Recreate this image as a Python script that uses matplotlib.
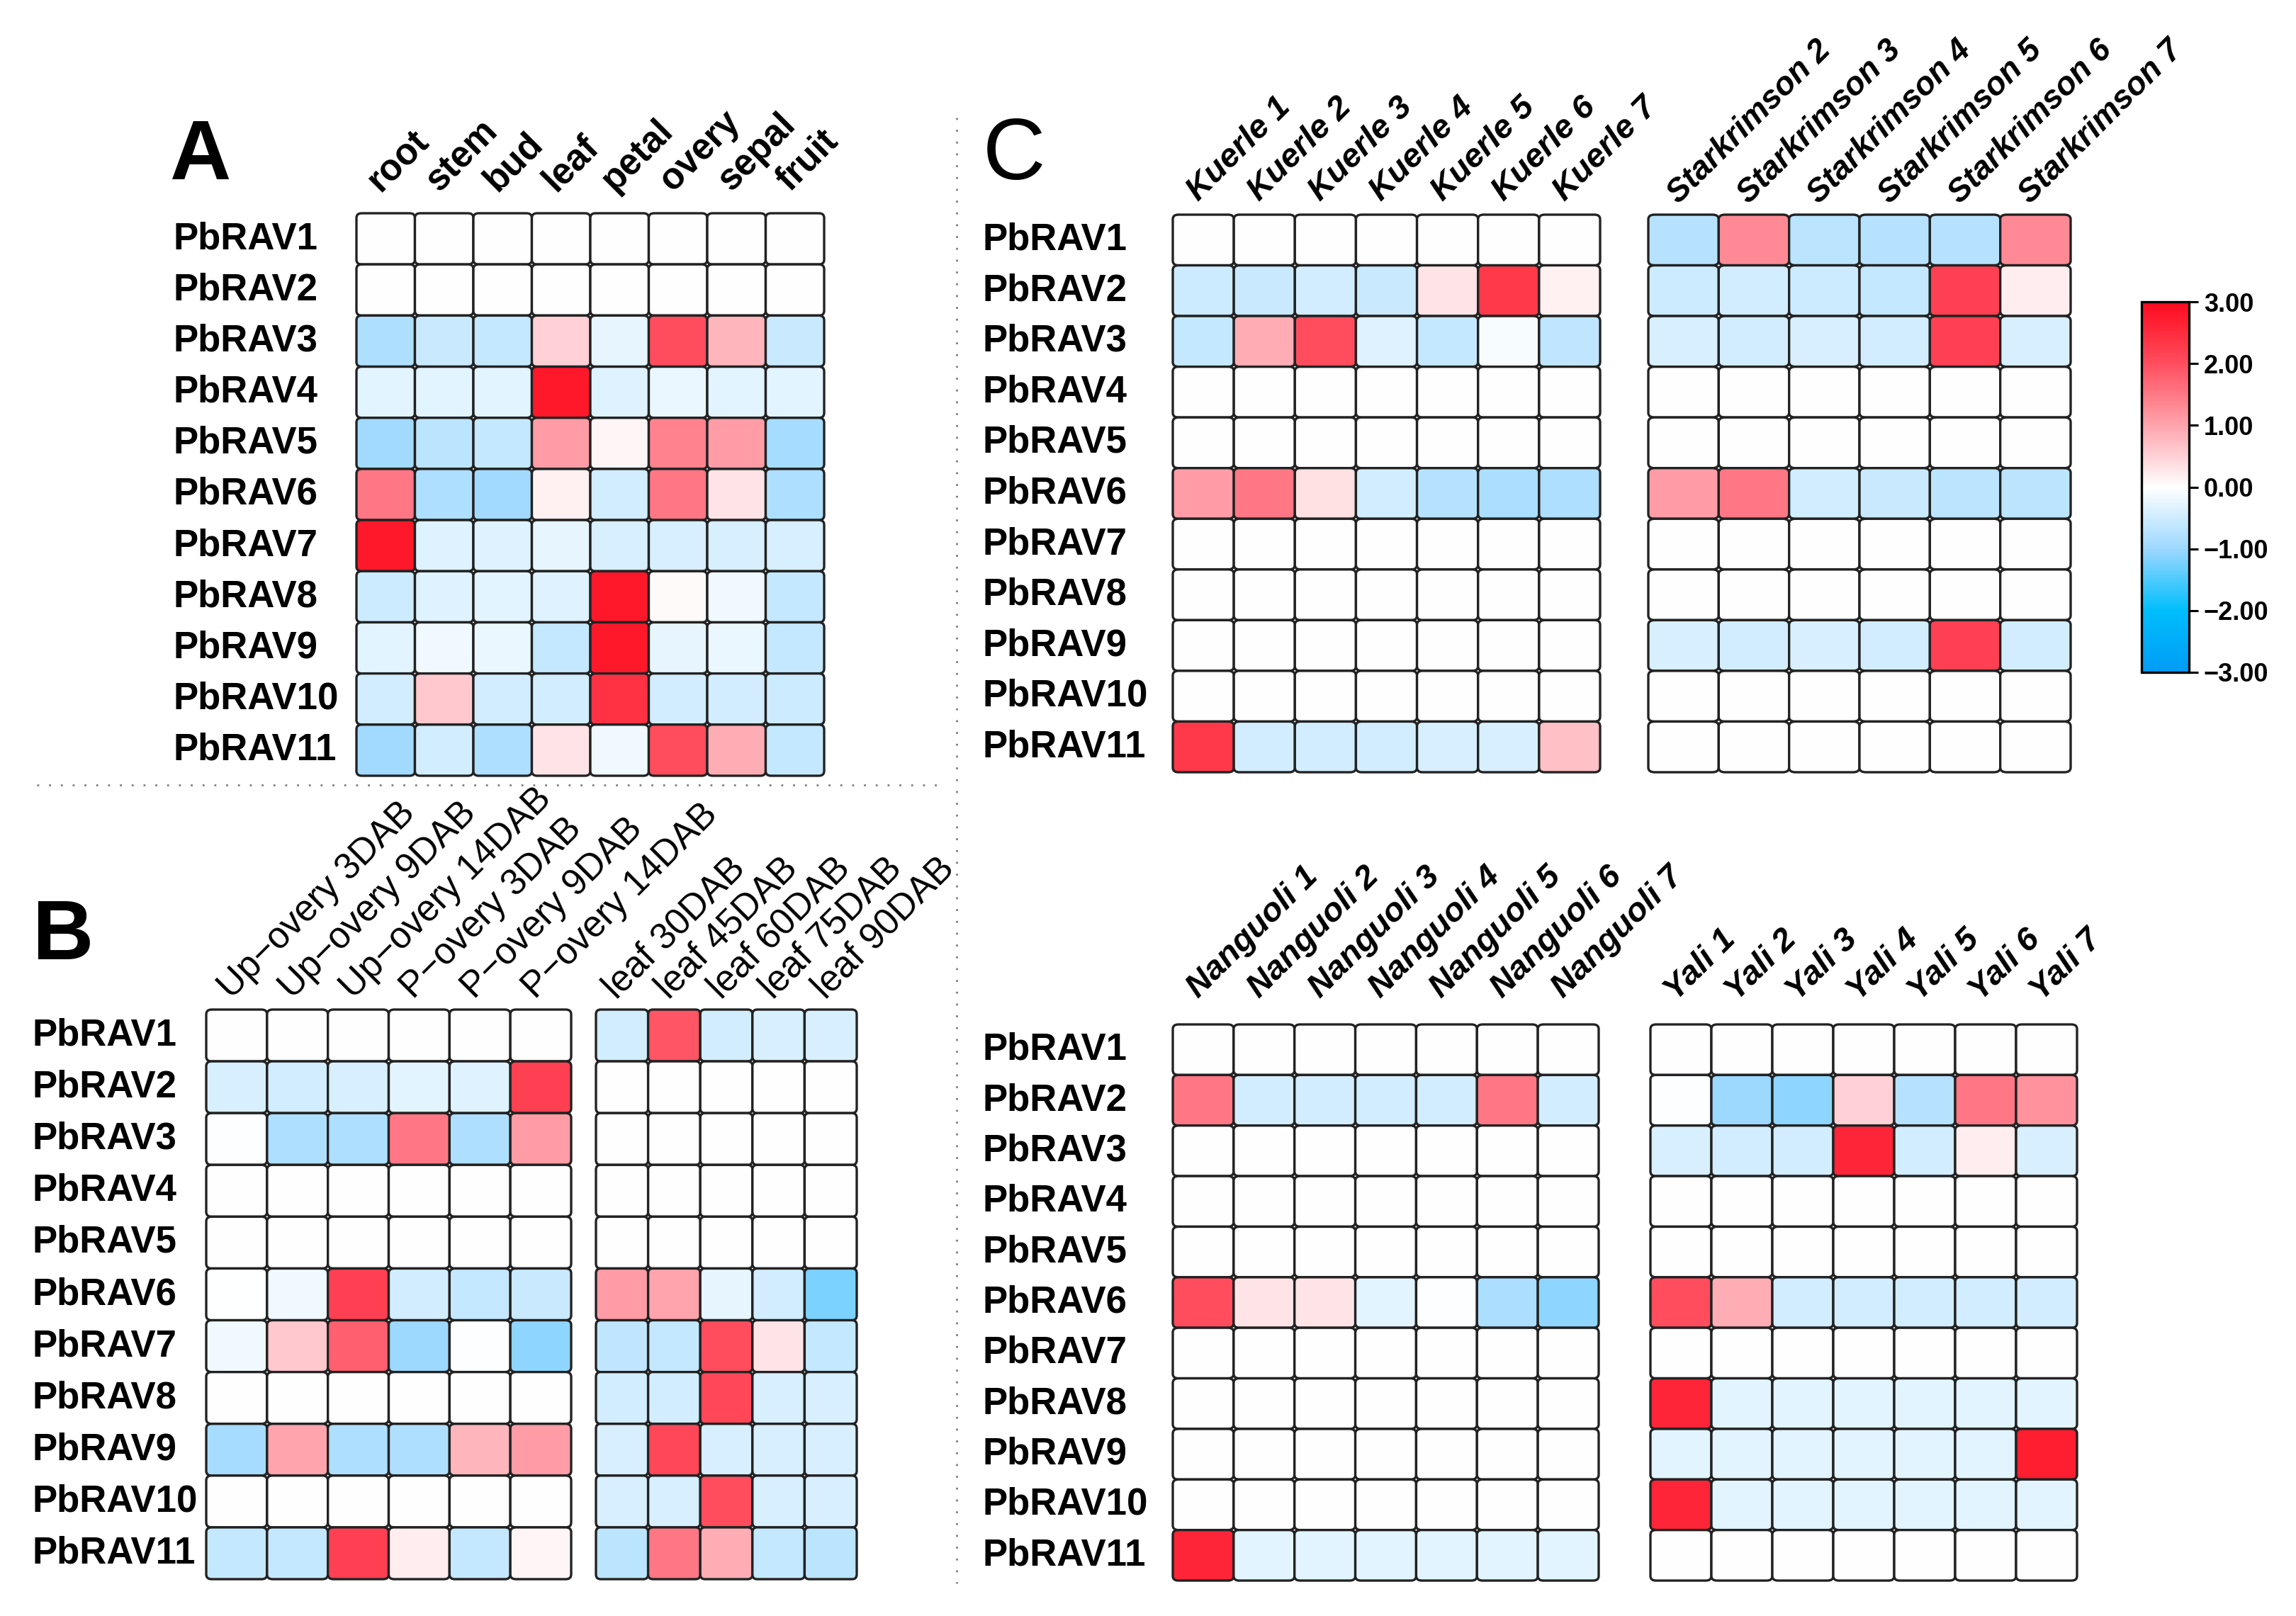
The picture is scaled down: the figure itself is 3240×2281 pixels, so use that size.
import numpy as np
import matplotlib
matplotlib.use('Agg')
import matplotlib.pyplot as plt
from matplotlib.colors import LinearSegmentedColormap, Normalize
from matplotlib.cm import ScalarMappable
from matplotlib.patches import FancyBboxPatch
from matplotlib.lines import Line2D
from matplotlib import transforms

plt.rcParams['font.family'] = ['Liberation Sans', 'DejaVu Sans']

# Gene names (rows of every heatmap)
genes = ['PbRAV1', 'PbRAV2', 'PbRAV3', 'PbRAV4', 'PbRAV5', 'PbRAV6',
         'PbRAV7', 'PbRAV8', 'PbRAV9', 'PbRAV10', 'PbRAV11']

# A: tissues
tissues = ['root', 'stem', 'bud', 'leaf', 'petal', 'overy', 'sepal', 'fruit']
tissue_vals = [
    [0, 0, 0, 0, 0, 0, 0, 0],
    [0, 0, 0, 0, 0, 0, 0, 0],
    [-0.8, -0.55, -0.6, 0.5, -0.25, 2.0, 0.8, -0.55],
    [-0.3, -0.3, -0.3, 2.8, -0.35, -0.2, -0.3, -0.3],
    [-0.95, -0.7, -0.6, 1.1, 0.1, 1.4, 1.1, -0.9],
    [1.5, -0.8, -0.95, 0.15, -0.45, 1.5, 0.3, -0.8],
    [2.8, -0.35, -0.35, -0.25, -0.4, -0.4, -0.4, -0.4],
    [-0.5, -0.35, -0.3, -0.35, 2.8, 0.05, -0.15, -0.6],
    [-0.3, -0.15, -0.2, -0.6, 2.8, -0.25, -0.2, -0.6],
    [-0.45, 0.6, -0.45, -0.45, 2.4, -0.45, -0.45, -0.5],
    [-0.95, -0.45, -0.8, 0.3, -0.15, 2.0, 0.9, -0.6],
]

# B: ovary stages
ovary_stages = ['Up\u2212overy 3DAB', 'Up\u2212overy 9DAB', 'Up\u2212overy 14DAB',
                'P\u2212overy 3DAB', 'P\u2212overy 9DAB', 'P\u2212overy 14DAB']
ovary_vals = [
    [0, 0, 0, 0, 0, 0],
    [-0.4, -0.45, -0.4, -0.3, -0.35, 2.2],
    [-0.03, -0.8, -0.8, 1.5, -0.8, 1.1],
    [0, 0, 0, 0, 0, 0],
    [0, 0, 0, 0, 0, 0],
    [-0.02, -0.15, 2.2, -0.45, -0.6, -0.55],
    [-0.15, 0.6, 1.8, -1.0, -0.03, -1.1],
    [0, 0, 0, 0, 0, 0],
    [-0.9, 1.0, -0.8, -0.8, 0.8, 1.1],
    [0, 0, 0, 0, 0, 0],
    [-0.6, -0.6, 2.2, 0.2, -0.6, 0.1],
]

# B: leaf stages
leaf_stages = ['leaf 30DAB', 'leaf 45DAB', 'leaf 60DAB', 'leaf 75DAB', 'leaf 90DAB']
leaf_vals = [
    [-0.45, 1.9, -0.45, -0.4, -0.4],
    [0, 0, 0, 0, 0],
    [0, 0, 0, 0, 0],
    [0, 0, 0, 0, 0],
    [0, 0, 0, 0, 0],
    [1.1, 1.0, -0.25, -0.45, -1.2],
    [-0.65, -0.6, 2.0, 0.3, -0.6],
    [-0.45, -0.45, 2.1, -0.4, -0.4],
    [-0.4, 2.1, -0.4, -0.4, -0.4],
    [-0.4, -0.4, 2.0, -0.4, -0.4],
    [-0.7, 1.5, 0.9, -0.6, -0.7],
]

# C: cultivars
kuerle = ['Kuerle %d' % i for i in range(1, 8)]
kuerle_vals = [
    [0, 0, 0, 0, 0, 0, 0],
    [-0.5, -0.55, -0.45, -0.55, 0.3, 2.3, 0.15],
    [-0.6, 0.9, 2.0, -0.35, -0.6, -0.08, -0.65],
    [0, 0, 0, 0, 0, 0, 0],
    [0, 0, 0, 0, 0, 0, 0],
    [1.1, 1.5, 0.35, -0.45, -0.75, -0.85, -0.8],
    [0, 0, 0, 0, 0, 0, 0],
    [0, 0, 0, 0, 0, 0, 0],
    [0, 0, 0, 0, 0, 0, 0],
    [0, 0, 0, 0, 0, 0, 0],
    [2.3, -0.45, -0.45, -0.45, -0.4, -0.4, 0.7],
]

stark = ['Starkrimson %d' % i for i in range(2, 8)]
stark_vals = [
    [-0.75, 1.3, -0.7, -0.75, -0.75, 1.3],
    [-0.5, -0.45, -0.5, -0.6, 2.2, 0.2],
    [-0.4, -0.45, -0.4, -0.45, 2.2, -0.4],
    [0, 0, 0, 0, 0, 0],
    [0, 0, 0, 0, 0, 0],
    [1.1, 1.5, -0.45, -0.55, -0.7, -0.7],
    [0, 0, 0, 0, 0, 0],
    [0, 0, 0, 0, 0, 0],
    [-0.4, -0.45, -0.4, -0.45, 2.2, -0.45],
    [0, 0, 0, 0, 0, 0],
    [0, 0, 0, 0, 0, 0],
]

nanguoli = ['Nanguoli %d' % i for i in range(1, 8)]
nanguoli_vals = [
    [0, 0, 0, 0, 0, 0, 0],
    [1.5, -0.45, -0.45, -0.45, -0.45, 1.5, -0.45],
    [0, 0, 0, 0, 0, 0, 0],
    [0, 0, 0, 0, 0, 0, 0],
    [0, 0, 0, 0, 0, 0, 0],
    [2.0, 0.3, 0.3, -0.3, -0.04, -0.85, -1.1],
    [0, 0, 0, 0, 0, 0, 0],
    [0, 0, 0, 0, 0, 0, 0],
    [0, 0, 0, 0, 0, 0, 0],
    [0, 0, 0, 0, 0, 0, 0],
    [2.6, -0.3, -0.3, -0.3, -0.3, -0.3, -0.3],
]

yali = ['Yali %d' % i for i in range(1, 8)]
yali_vals = [
    [0, 0, 0, 0, 0, 0, 0],
    [-0.04, -1.0, -1.1, 0.5, -0.75, 1.5, 1.2],
    [-0.4, -0.45, -0.45, 2.6, -0.45, 0.2, -0.4],
    [0, 0, 0, 0, 0, 0, 0],
    [0, 0, 0, 0, 0, 0, 0],
    [2.0, 0.9, -0.45, -0.45, -0.45, -0.45, -0.45],
    [0, 0, 0, 0, 0, 0, 0],
    [2.6, -0.3, -0.3, -0.3, -0.3, -0.3, -0.3],
    [-0.3, -0.3, -0.3, -0.3, -0.3, -0.3, 2.7],
    [2.6, -0.3, -0.3, -0.3, -0.3, -0.3, -0.3],
    [0, 0, 0, 0, 0, 0, 0],
]

cbar_ticks = [-3, -2, -1, 0, 1, 2, 3]
cbar_labels = ['\u22123.00', '\u22122.00', '\u22121.00', '0.00', '1.00', '2.00', '3.00']

# Farbskala blau - weiss - rot
cmap = LinearSegmentedColormap.from_list('bwr_tb', [
    (0.0, '#009cf5'), (1/6, '#00befc'), (2/6, '#9dd8ff'),
    (0.5, '#ffffff'), (4/6, '#ffa4ad'), (5/6, '#ff4e5f'), (1.0, '#ff0a1e')])
norm = Normalize(-3, 3)

W, H = 3241, 2281
fig = plt.figure(figsize=(W / 100, H / 100), dpi=100)


def px_rect(x0, x1, y0, y1):
    return [x0 / W, 1 - y1 / H, (x1 - x0) / W, (y1 - y0) / H]


def heat(rect, vals, cols, label_x=None, col_fs=33, col_style='normal',
         col_weight='bold', col_gap=0.3):
    ax = fig.add_axes(px_rect(*rect))
    vals = np.asarray(vals, dtype=float)
    nr, nc = vals.shape
    ax.set_xlim(0, nc)
    ax.set_ylim(nr, 0)
    ax.axis('off')
    for i in range(nr):
        for j in range(nc):
            ax.add_patch(FancyBboxPatch((j, i), 1, 1,
                                        boxstyle='round,pad=0,rounding_size=0.09',
                                        fc=cmap(norm(vals[i, j])), ec='#222222',
                                        lw=2.4, clip_on=False))
    for j, c in enumerate(cols):
        ax.text(j + 0.5, -col_gap, c, rotation=45, rotation_mode='anchor',
                ha='left', va='bottom', fontsize=col_fs,
                fontweight=col_weight, fontstyle=col_style)
    if label_x is not None:
        tr = transforms.blended_transform_factory(fig.transFigure, ax.transData)
        for i, g in enumerate(genes):
            ax.text(label_x / W, i + 0.5, g, transform=tr, ha='left',
                    va='center', fontsize=38, fontweight='bold')
    return ax


# A
heat((503, 1163, 301, 1095), tissue_vals, tissues, label_x=245, col_fs=37, col_gap=0.3)
# B
heat((291, 806, 1425, 2229), ovary_vals, ovary_stages, label_x=46, col_fs=37,
     col_weight='normal', col_gap=0.08)
heat((841, 1209, 1425, 2229), leaf_vals, leaf_stages, col_fs=37,
     col_weight='normal', col_gap=0.08)
# C
heat((1655, 2258, 303, 1090), kuerle_vals, kuerle, label_x=1387, col_fs=34,
     col_style='italic', col_gap=0.15)
heat((2326, 2922, 303, 1090), stark_vals, stark, col_fs=33,
     col_style='italic', col_gap=0.1)
heat((1655, 2256, 1446, 2231), nanguoli_vals, nanguoli, label_x=1387, col_fs=34,
     col_style='italic', col_gap=0.4)
heat((2329, 2931, 1446, 2231), yali_vals, yali, col_fs=34,
     col_style='italic', col_gap=0.35)

# Farbbalken
cax = fig.add_axes(px_rect(3022, 3089, 426, 949))
cb = fig.colorbar(ScalarMappable(norm=norm, cmap=cmap), cax=cax, ticks=cbar_ticks)
cb.ax.set_yticklabels(cbar_labels, fontsize=26, fontweight='bold')
cb.outline.set_linewidth(2.4)
cb.ax.tick_params(length=9, width=2.2, pad=6)

# Buchstaben
fig.text(239 / W, 1 - 253 / H, 'A', fontsize=86, fontweight='bold', ha='left', va='baseline')
fig.text(46 / W, 1 - 1354 / H, 'B', fontsize=86, fontweight='bold', ha='left', va='baseline')
fig.text(1387 / W, 1 - 253 / H, 'C', fontsize=88, ha='left', va='baseline')

# gepunktete Trennlinien
fig.add_artist(Line2D([52 / W, 1330 / W], [1 - 1108 / H, 1 - 1108 / H],
                      color='#808080', lw=2, linestyle=(0, (1, 5))))
fig.add_artist(Line2D([1350 / W, 1350 / W], [1 - 166 / H, 1 - 2235 / H],
                      color='#808080', lw=2, linestyle=(0, (1, 5))))

fig.savefig('out.png', dpi=100, facecolor='white')
plt.close()
